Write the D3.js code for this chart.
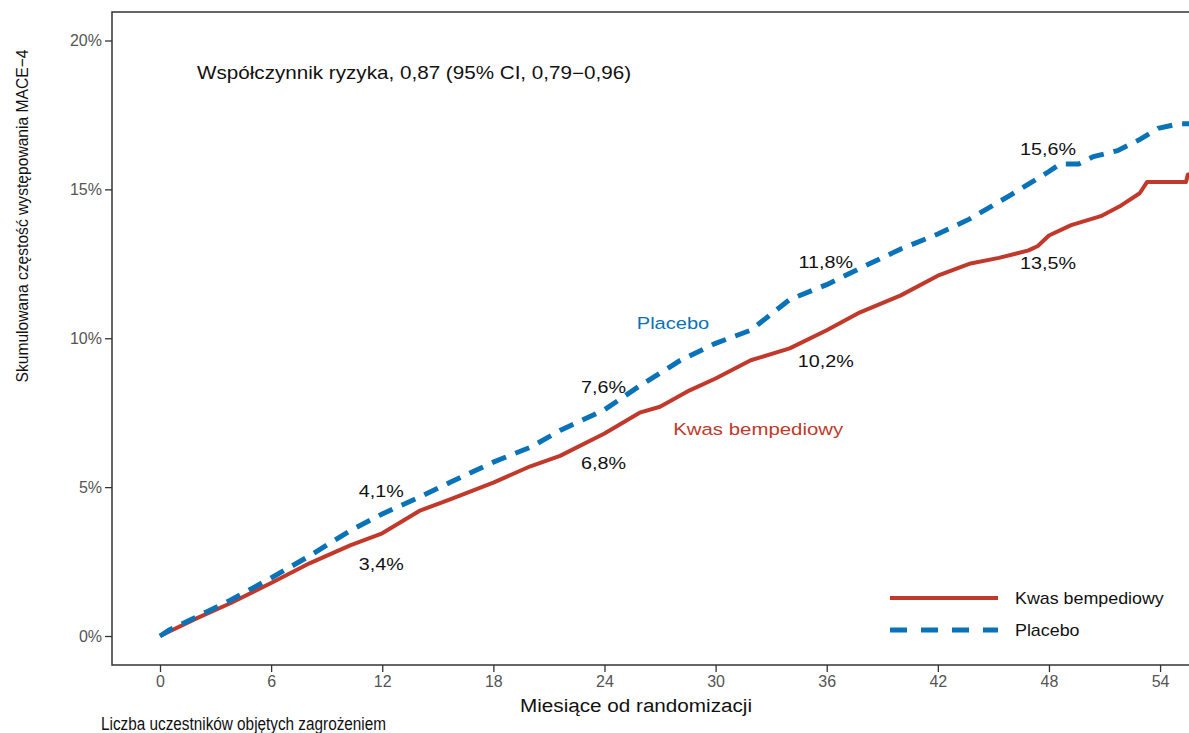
<!DOCTYPE html>
<html>
<head>
<meta charset="utf-8">
<script src="https://cdn.jsdelivr.net/npm/d3@7"></script>
<style>
  html, body { margin: 0; padding: 0; background: #fff; overflow: hidden; }
  text { font-family: "Liberation Sans", Arial, Helvetica, sans-serif; }
</style>
</head>
<body>
<svg id="chart" width="1189" height="733"></svg>
<script>
// miesiące / skumulowana częstość (%)
const kwas_months = [0, 0.5, 2, 3.8, 6, 8.1, 10.3, 12, 14, 15.7, 18, 20, 21.6, 24, 25.9, 27, 28.6, 30, 31.9, 34, 36, 37.8, 40, 42, 43.7, 45.3, 46.9, 47.4, 48, 49.2, 50.8, 51.9, 52.9, 53.3, 55.4, 55.5, 56];
const kwas_values = [0, 0.15, 0.6, 1.1, 1.78, 2.45, 3.05, 3.45, 4.2, 4.6, 5.15, 5.7, 6.05, 6.8, 7.5, 7.7, 8.25, 8.65, 9.26, 9.66, 10.27, 10.87, 11.44, 12.1, 12.5, 12.7, 12.95, 13.1, 13.45, 13.8, 14.1, 14.46, 14.87, 15.25, 15.25, 15.5, 15.5];
const placebo_months = [0, 0.5, 2, 3.8, 6, 8.1, 10.3, 12, 14, 15.7, 18, 20, 21.6, 24, 25.9, 28.1, 30, 31.9, 34, 36, 37.8, 40, 42, 43.7, 45.9, 48, 48.6, 49.6, 50.4, 51.7, 52.8, 53.9, 55, 56];
const placebo_values = [0, 0.2, 0.65, 1.2, 1.95, 2.7, 3.55, 4.1, 4.66, 5.17, 5.84, 6.34, 6.9, 7.6, 8.4, 9.26, 9.83, 10.27, 11.3, 11.8, 12.35, 13.0, 13.5, 14.0, 14.8, 15.6, 15.85, 15.85, 16.1, 16.3, 16.64, 17.05, 17.2, 17.2];

const x_ticks = [0, 6, 12, 18, 24, 30, 36, 42, 48, 54];
const y_ticks = [0, 5, 10, 15, 20];

// etykiety wartości na krzywych: [miesiąc, wartość, tekst]
const placebo_labels = [[12, 4.1, "4,1%"], [24, 7.6, "7,6%"], [36, 11.8, "11,8%"], [48, 15.6, "15,6%"]];
const kwas_labels = [[12, 3.4, "3,4%"], [24, 6.8, "6,8%"], [36, 10.2, "10,2%"], [48, 13.5, "13,5%"]];

const RED = "#c0392b";
const BLUE = "#0a72b6";

const svg = d3.select("#chart");

const xScale = d3.scaleLinear().domain([0, 60]).range([160, 160 + 60 * 18.52]);
const yScale = d3.scaleLinear().domain([0, 20]).range([636, 40.5]);

const panel = { left: 112, top: 12, bottom: 665, right: 1200 };

//tekst rozciągnięty w poziomie (oryginał jest lekko rozciągnięty)
function add_text(x, y, str, size, sx, anchor, color) {
  return svg.append("text")
    .attr("transform", `translate(${x}, ${y}) scale(${sx}, 1)`)
    .text(str)
    .style("font-size", size + "px")
    .style("text-anchor", anchor)
    .style("fill", color);
}

// ramka panelu
svg.append("rect")
  .attr("x", panel.left)
  .attr("y", panel.top)
  .attr("width", panel.right - panel.left)
  .attr("height", panel.bottom - panel.top)
  .style("fill", "none")
  .style("stroke", "#333")
  .style("stroke-width", 1.5);

// osie
const yAxis = d3.axisLeft(yScale)
  .tickValues(y_ticks)
  .tickSize(7)
  .tickFormat(d => d + "%");
const gy = svg.append("g")
  .attr("transform", `translate(${panel.left}, 0)`)
  .call(yAxis);
gy.select(".domain").remove();
gy.selectAll(".tick line").style("stroke", "#333").style("stroke-width", 1.3);
gy.selectAll(".tick text")
  .style("font-size", "16px")
  .style("fill", "#555")
  .attr("x", -10);

const xAxis = d3.axisBottom(xScale)
  .tickValues(x_ticks)
  .tickSize(7)
  .tickFormat(d => d);
const gx = svg.append("g")
  .attr("transform", `translate(0, ${panel.bottom})`)
  .call(xAxis);
gx.select(".domain").remove();
gx.selectAll(".tick line").style("stroke", "#333").style("stroke-width", 1.3);
gx.selectAll(".tick text")
  .style("font-size", "16px")
  .style("fill", "#555")
  .attr("y", 11);

// krzywe
const clip = svg.append("defs").append("clipPath").attr("id", "panel-clip");
clip.append("rect")
  .attr("x", panel.left).attr("y", panel.top)
  .attr("width", panel.right - panel.left).attr("height", panel.bottom - panel.top);

const line = d3.line()
  .x(d => xScale(d[0]))
  .y(d => yScale(d[1]))
  .curve(d3.curveLinear);

const kwas = kwas_months.map((m, i) => [m, kwas_values[i]]);
const placebo = placebo_months.map((m, i) => [m, placebo_values[i]]);

const curves = svg.append("g").attr("clip-path", "url(#panel-clip)");
curves.append("path")
  .datum(kwas)
  .attr("d", line)
  .style("fill", "none")
  .style("stroke", RED)
  .style("stroke-width", 4)
  .style("stroke-linejoin", "round");
curves.append("path")
  .datum(placebo)
  .attr("d", line)
  .style("fill", "none")
  .style("stroke", BLUE)
  .style("stroke-width", 5)
  .style("stroke-dasharray", "15,10");

// etykiety wartości
placebo_labels.forEach(d => {
  add_text(xScale(d[0]) - 1, yScale(d[1]) - 17, d[2], 17, 1.16, "middle", "#111");
});
kwas_labels.forEach(d => {
  add_text(xScale(d[0]) - 1, yScale(d[1]) + 35, d[2], 17, 1.16, "middle", "#111");
});

// nazwy grup przy krzywych
add_text(xScale(27.7), yScale(10.3), "Placebo", 17, 1.18, "middle", BLUE);
add_text(xScale(32.3), yScale(6.75), "Kwas bempediowy", 17, 1.2, "middle", RED);

// współczynnik ryzyka
add_text(197, 79, "Współczynnik ryzyka, 0,87 (95% CI, 0,79−0,96)", 17.5, 1.18, "start", "#111");

// tytuły osi
svg.append("text")
  .attr("transform", "translate(28, 216) rotate(-90)")
  .attr("textLength", 333)
  .attr("lengthAdjust", "spacingAndGlyphs")
  .attr("x", -333 / 2)
  .text("Skumulowana częstość występowania MACE−4")
  .style("font-size", "17px")
  .style("fill", "#111");

svg.append("text")
  .attr("x", 520)
  .attr("y", 712)
  .attr("textLength", 232)
  .attr("lengthAdjust", "spacingAndGlyphs")
  .text("Miesiące od randomizacji")
  .style("font-size", "18px")
  .style("fill", "#111");

svg.append("text")
  .attr("x", 101)
  .attr("y", 730)
  .attr("textLength", 285)
  .attr("lengthAdjust", "spacingAndGlyphs")
  .text("Liczba uczestników objętych zagrożeniem")
  .style("font-size", "17.5px")
  .style("fill", "#111");

// legenda
const legend_items = [["Kwas bempediowy", RED, null, 4], ["Placebo", BLUE, "17,14", 5]];
const legend = svg.selectAll(".legend-item")
  .data(legend_items)
  .enter()
  .append("g")
  .attr("class", "legend-item")
  .attr("transform", (d, i) => `translate(890, ${598 + i * 32})`);
legend.append("line")
  .attr("x1", 0).attr("x2", 108)
  .attr("y1", 0).attr("y2", 0)
  .style("stroke", d => d[1])
  .style("stroke-width", d => d[3])
  .style("stroke-dasharray", d => d[2]);
legend.append("text")
  .attr("transform", "translate(125, 6) scale(1.05, 1)")
  .text(d => d[0])
  .style("font-size", "17px")
  .style("fill", "#111");
</script>
</body>
</html>
